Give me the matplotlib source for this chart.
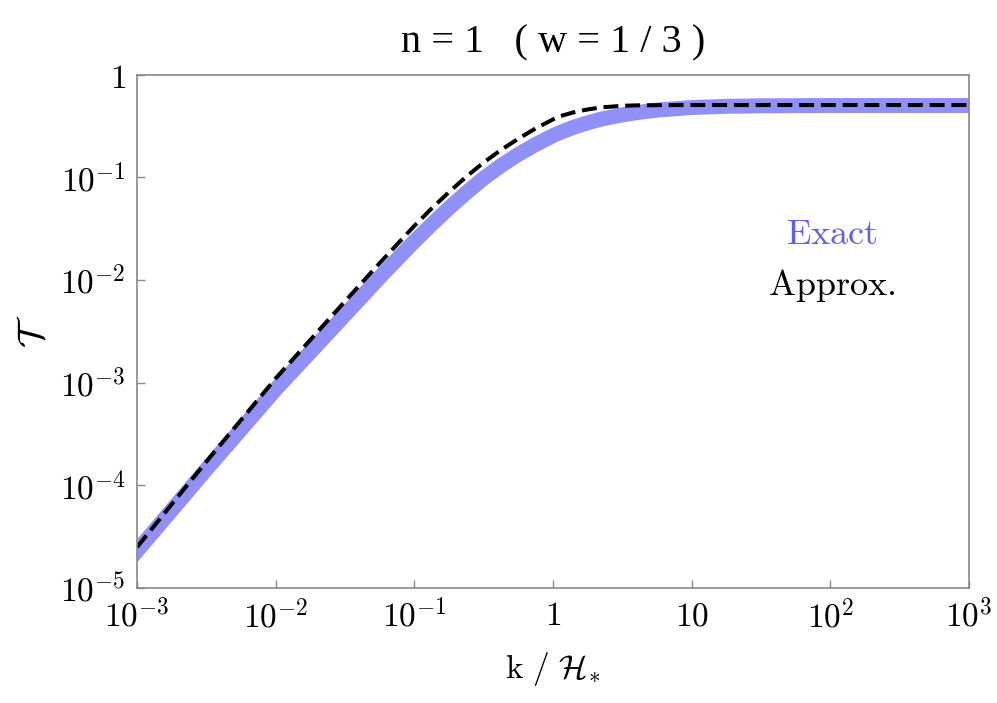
import matplotlib
matplotlib.use("Agg")
import matplotlib.pyplot as plt
import numpy as np

plt.rcParams['mathtext.fontset'] = 'cm'

# log10(k / H_*) sample positions
log_k = [-3, -2.5, -2, -1.5, -1.25, -1, -0.875, -0.75, -0.625, -0.5, -0.375,
         -0.25, -0.125, 0, 0.05, 0.15, 0.25, 0.35, 0.5, 0.6, 0.75, 1, 1.25,
         1.5, 2, 3]

# exact transfer function (band centre)
T_exact = [2.29e-5, 1.43e-4, 8.6e-4, 4.58e-3, 1.06e-2, 2.38e-2, 3.48e-2, 5.02e-2,
           7.10e-2, 9.80e-2, 0.130, 0.1675, 0.209, 0.255, 0.273, 0.308, 0.340,
           0.370, 0.406, 0.427, 0.452, 0.479, 0.492, 0.498, 0.501, 0.501]

# approximation (dashed)
T_approx = [2.5e-5, 1.7e-4, 1.1e-3, 6.2e-3, 1.46e-2, 3.37e-2, 4.98e-2, 7.19e-2,
            0.1016, 0.1396, 0.185, 0.238, 0.300, 0.367, 0.394, 0.431, 0.459,
            0.481, 0.498, 0.503, 0.505, 0.507, 0.507, 0.507, 0.507, 0.507]

xticks = [1e-3, 1e-2, 1e-1, 1, 10, 100, 1000]
xticklabels = [r'$10^{-3}$', r'$10^{-2}$', r'$10^{-1}$', r'$1$', r'$10$', r'$10^{2}$', r'$10^{3}$']
yticks = [1e-5, 1e-4, 1e-3, 1e-2, 1e-1, 1]
yticklabels = [r'$10^{-5}$', r'$10^{-4}$', r'$10^{-3}$', r'$10^{-2}$', r'$10^{-1}$', r'$1$']

k = 10 ** np.array(log_k, dtype=float)

fig = plt.figure(figsize=(9.97, 7.03), dpi=100)
ax = fig.add_axes([0.1374, 0.1636, 0.8345, 0.7301])

ax.plot(k, T_exact, color='#9090f8', lw=10.8, solid_capstyle='projecting', solid_joinstyle='round')
ax.plot(k, T_approx, color='black', lw=2.9, dashes=(3.7, 1.7))

ax.set_xscale('log')
ax.set_yscale('log')
ax.set_xlim(1e-3, 1e3)
ax.set_ylim(1e-5, 1)

ax.set_xticks(xticks)
ax.set_xticklabels(xticklabels, fontsize=24)
ax.set_yticks(yticks)
ax.set_yticklabels(yticklabels, fontsize=24)
ax.minorticks_off()
ax.tick_params(direction='in', length=6, width=1, color='#888888', pad=8)

for s in ax.spines.values():
    s.set_color('#888888')
    s.set_linewidth(1.2)

ax.set_xlabel(r'$\mathrm{k}\ /\ \mathcal{H}_{*}$', fontsize=24, labelpad=11)
ax.set_ylabel(r'$\mathcal{T}$', fontsize=27, labelpad=6)
ax.set_title('n = 1   ( w = 1 / 3 )', fontsize=29, family='Liberation Serif', pad=16)

ax.text(0.835, 0.690, r'$\mathrm{Exact}$', color='#6060f0', fontsize=26,
        ha='center', va='center', transform=ax.transAxes)
ax.text(0.835, 0.590, r'$\mathrm{Approx.}$', color='black', fontsize=26,
        ha='center', va='center', transform=ax.transAxes)

fig.savefig('out.png', dpi=100)
